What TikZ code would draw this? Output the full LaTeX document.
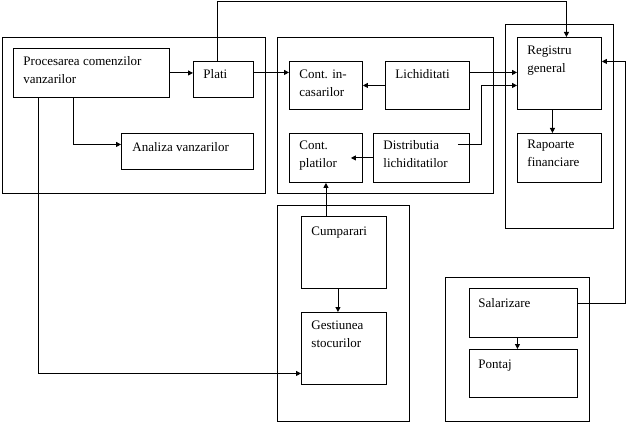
\documentclass[tikz,border=0pt]{standalone}
\usepackage{fontspec}
\setmainfont{Liberation Serif}
\usetikzlibrary{arrows.meta,calc}

\tikzset{
  grup/.style={draw,inner sep=0pt,anchor=north west},
  bloc/.style={draw,inner sep=0pt,anchor=north west},
  eticheta/.style={inner sep=0pt,anchor=north west,align=left,
    font=\fontsize{13}{18}\selectfont},
  sag/.style={-{Triangle[length=5pt,width=5pt]}},
}

\begin{document}
\begin{tikzpicture}[x=1pt,y=-1pt,line width=0.9pt]
	\useasboundingbox (0,0) rectangle (626,422);
	
	% grupuri
	\node[grup,minimum width=263,minimum height=156] (g1) at (2,37) {};
	\node[grup,minimum width=216,minimum height=156] (g2) at (277,37) {};
	\node[grup,minimum width=108,minimum height=204] (g3) at (505,24) {};
	\node[grup,minimum width=132,minimum height=216] (g4) at (277,205) {};
	\node[grup,minimum width=144,minimum height=144] (g5) at (445,277) {};
	
	% blocuri
	\node[bloc,minimum width=156,minimum height=49] (proc) at (13,48) {};
	\node[bloc,minimum width=60,minimum height=36] (plati) at (193,61) {};
	\node[bloc,minimum width=132,minimum height=36] (analiza) at (121,133) {};
	\node[bloc,minimum width=73,minimum height=48] (incas) at (289,61) {};
	\node[bloc,minimum width=84,minimum height=48] (lichid) at (385,61) {};
	\node[bloc,minimum width=73,minimum height=49] (platil) at (289,133) {};
	\node[bloc,minimum width=96,minimum height=49] (distr) at (373,133) {};
	\node[bloc,minimum width=84,minimum height=72] (registru) at (517,37) {};
	\node[bloc,minimum width=84,minimum height=49] (rapoarte) at (517,133) {};
	\node[bloc,minimum width=85,minimum height=72] (cump) at (301,216) {};
	\node[bloc,minimum width=85,minimum height=72] (gest) at (301,312) {};
	\node[bloc,minimum width=108,minimum height=49] (salar) at (469,288) {};
	\node[bloc,minimum width=108,minimum height=48] (pontaj) at (469,349) {};
	
	% texte
	\node[eticheta] (tproc) at ([shift={(10pt,-8pt)}]proc.north west) {Procesarea comenzilor\\vanzarilor};
	\node[eticheta] (tplati) at ([shift={(10pt,-8pt)}]plati.north west) {Plati};
	\node[eticheta] (tanaliza) at ([shift={(11pt,-9pt)}]analiza.north west) {Analiza vanzarilor};
	\node[eticheta] (tincas) at ([shift={(10pt,-8pt)}]incas.north west) {Cont. in-\\casarilor};
	\node[eticheta] (tlichid) at ([shift={(10pt,-8pt)}]lichid.north west) {Lichiditati};
	\node[eticheta] (tplatil) at ([shift={(10pt,-7pt)}]platil.north west) {Cont.\\platilor};
	\node[eticheta] (tdistr) at ([shift={(10pt,-7pt)}]distr.north west) {Distributia\\lichiditatilor};
	\node[eticheta] (tregistru) at ([shift={(10pt,-8pt)}]registru.north west) {Registru\\general};
	\node[eticheta] (trapoarte) at ([shift={(10pt,-7pt)}]rapoarte.north west) {Rapoarte\\financiare};
	\node[eticheta] (tcump) at ([shift={(10pt,-10pt)}]cump.north west) {Cumparari};
	\node[eticheta] (tgest) at ([shift={(10pt,-8pt)}]gest.north west) {Gestiunea\\stocurilor};
	\node[eticheta] (tsalar) at ([shift={(9pt,-10pt)}]salar.north west) {Salarizare};
	\node[eticheta] (tpontaj) at ([shift={(9pt,-10pt)}]pontaj.north west) {Pontaj};
	
	% legaturi
	\draw[sag] (proc.east) -- (proc.east -| plati.west);
	\draw[sag] ([xshift=60pt]proc.south west) |- ([yshift=7pt]analiza.west);
	\draw[sag] ([xshift=25pt]proc.south west) |- ([yshift=-25pt]gest.west);
	\draw[sag] ([xshift=-6pt]plati.north) -- ++(0,-60) -| ([xshift=7pt]registru.north);
	\draw[sag] ([yshift=7pt]plati.east) -- ([yshift=13pt]incas.west);
	\draw[sag] (lichid.west) -- (incas.east);
	\draw[sag] ([yshift=13pt]lichid.east) -- ([yshift=1pt]registru.west);
	\draw[sag] ([shift={(-12pt,13pt)}]distr.east) -- ++(24,0) |- ([yshift=-12pt]registru.west);
	\draw[sag] (distr.west) -- ([xshift=-12pt]platil.east);
	\draw[sag] (cump.north -| platil.south) -- (platil.south);
	\draw[sag] ([xshift=-6pt]cump.south) -- ([xshift=-6pt]gest.north);
	\draw[sag] ([xshift=-7pt]registru.south) -- ([xshift=-7pt]rapoarte.north);
	\draw[sag] ([yshift=10pt]salar.east) -- ++(48,0) |- ([yshift=12pt]registru.east);
	\draw[sag] ([xshift=-6pt]salar.south) -- ([xshift=-6pt]pontaj.north);
\end{tikzpicture}
\end{document}
